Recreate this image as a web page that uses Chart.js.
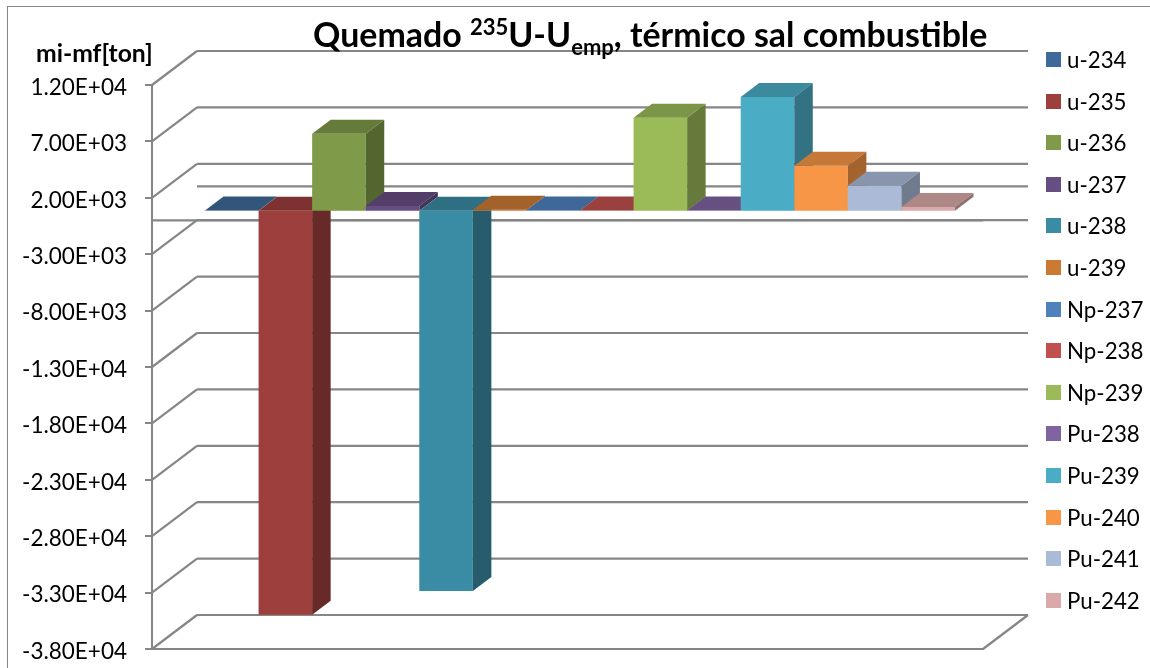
<!DOCTYPE html>
<html lang="es">
<head>
<meta charset="utf-8">
<title>Quemado 235U-Uemp</title>
<script src="https://cdn.jsdelivr.net/npm/chart.js@4"></script>
<style>
    html, body { margin: 0; padding: 0; background: #fff; overflow: hidden; }
    #wrap { position: relative; width: 1150px; height: 668px; font-family: Lato, sans-serif; color: #000; }
    #frame { position: absolute; left: 7px; top: 6px; right: -5px; bottom: -5px; border: 1.5px solid #868686; }
    #chart { position: absolute; left: 0; top: 0; }
    #title { position: absolute; left: 313px; top: 14px; font-size: 33.9px; font-weight: 700; white-space: nowrap; line-height: 40px; }
    #title sup, #title sub { font-size: 22px; line-height: 0; }
    #unit { position: absolute; left: 36px; top: 39px; font-size: 24.7px; font-weight: 700; white-space: nowrap; line-height: 28px; }
    #legend { position: absolute; left: 1046px; top: 39px; }
    #legend div { position: relative; height: 41.6px; line-height: 41.6px; padding-left: 21px; font-size: 22.3px; white-space: nowrap; }
    #legend i { position: absolute; left: 0; top: 13px; width: 15px; height: 15px; }
</style>
</head>
<body>
<div id="wrap">
    <div id="frame"></div>
    <canvas id="chart" width="1150" height="668"></canvas>
    <div id="title">Quemado <sup>235</sup>U-U<sub>emp</sub>, térmico sal combustible</div>
    <div id="unit">mi-mf[ton]</div>
    <div id="legend"></div>
</div>
<script>
    // ── Data ──
    const categories = ['mi-mf'];
    const isotopes = ['u-234', 'u-235', 'u-236', 'u-237', 'u-238', 'u-239', 'Np-237', 'Np-238', 'Np-239', 'Pu-238', 'Pu-239', 'Pu-240', 'Pu-241', 'Pu-242'];
    const massChange = [30, -35800, 6830, 440, -33700, 100, 30, 30, 8250, 30, 10100, 3990, 2220, 350];
    const colors = ['#3E6A9B', '#9C3F3D', '#7F9A48', '#664E83', '#3A8BA4', '#CB7A34', '#4F81BD', '#C0504D', '#9BBB59', '#8064A2', '#4BACC6', '#F79646', '#AABAD7', '#D9AAA9'];
    const axisMin = -38000;
    const axisMax = 12000;
    const axisStep = 5000;

    const lineColor = '#868686';
    // Depth of the box walls, and of the bars inside the box
    const wall = { dx: 45, dy: 34 };
    const barShift = { dx: 12.5, dy: 9.5 };
    const barDepth = { dx: 18.5, dy: 14 };

    function shade(hex, f) {
        const n = parseInt(hex.slice(1), 16);
        const ch = s => Math.round(((n >> s) & 255) * f);
        return `rgb(${ch(16)},${ch(8)},${ch(0)})`;
    }

    function sciLabel(v) {
        const [m, e] = Number(v).toExponential(2).split('e');
        return `${m}E${e[0]}${e.slice(1).padStart(2, '0')}`;
    }

    function poly(ctx, pts, fill) {
        ctx.beginPath();
        pts.forEach((p, i) => i ? ctx.lineTo(p[0], p[1]) : ctx.moveTo(p[0], p[1]));
        ctx.closePath();
        ctx.fillStyle = fill;
        ctx.fill();
    }

    function segment(ctx, x1, y1, x2, y2) {
        ctx.beginPath();
        ctx.moveTo(x1, y1);
        ctx.lineTo(x2, y2);
        ctx.stroke();
    }

    // ── 3D box and bars ──
    const box3d = {
        id: 'box3d',
        beforeDatasetsDraw(chart) {
            const { ctx, chartArea: a } = chart;
            const y = chart.scales.y;

            ctx.save();
            ctx.strokeStyle = lineColor;
            ctx.lineWidth = 2.2;
            y.ticks.forEach(t => {
                const py = y.getPixelForValue(t.value);
                segment(ctx, a.left, py, a.left + wall.dx, py - wall.dy);
                segment(ctx, a.left + wall.dx, py - wall.dy, a.right + wall.dx, py - wall.dy);
            });
            segment(ctx, a.right, a.bottom, a.right + wall.dx, a.bottom - wall.dy);

            // plane of the value 0
            const zero = y.getPixelForValue(0);
            segment(ctx, a.left + wall.dx, zero - wall.dy, a.right + wall.dx, zero - wall.dy);
            segment(ctx, a.left, zero, a.right, zero);
            ctx.restore();

            // left to right, so each bar covers the side of the one before
            ctx.save();
            ctx.translate(barShift.dx, -barShift.dy);
            chart.getSortedVisibleDatasetMetas().forEach((meta, i) => {
                const bar = meta.data[0];
                const l = bar.x - bar.width / 2;
                const r = bar.x + bar.width / 2;
                const top = Math.min(bar.y, bar.base);
                const bot = Math.max(bar.y, bar.base);
                const d = barDepth;
                bar.draw(ctx);
                poly(ctx, [[l, top], [l + d.dx, top - d.dy], [r + d.dx, top - d.dy], [r, top]], shade(colors[i], 0.8));
                poly(ctx, [[r, top], [r + d.dx, top - d.dy], [r + d.dx, bot - d.dy], [r, bot]], shade(colors[i], 0.66));
            });
            ctx.restore();
            return false;
        }
    };

    new Chart(document.getElementById('chart'), {
        type: 'bar',
        data: {
            labels: categories,
            datasets: isotopes.map((name, i) => ({
                label: name,
                data: [massChange[i]],
                backgroundColor: colors[i],
                borderWidth: 0,
                barPercentage: 1,
                categoryPercentage: 0.9025
            }))
        },
        options: {
            responsive: false,
            animation: false,
            layout: { padding: { top: 85, bottom: 19, right: 167 } },
            plugins: {
                tooltip: { enabled: false },
                legend: { display: false }
            },
            scales: {
                x: {
                    grid: { display: true, drawOnChartArea: false, drawTicks: false },
                    border: { display: true, color: lineColor, width: 2 },
                    ticks: { display: false },
                    afterFit(s) { s.height = 0; }
                },
                y: {
                    min: axisMin,
                    max: axisMax,
                    grid: { drawOnChartArea: false, color: lineColor, lineWidth: 2, tickLength: 7 },
                    border: { display: true, color: lineColor, width: 2 },
                    ticks: {
                        stepSize: axisStep,
                        padding: 18,
                        labelOffset: 2.5,
                        color: '#000',
                        font: { family: 'Lato', size: 22.5 },
                        callback: sciLabel
                    },
                    afterFit(s) {
                        s.width = 152;
                        s.paddingTop = 0;
                        s.paddingBottom = 0;
                    }
                }
            }
        },
        plugins: [box3d]
    });

    // Legend rows, the text itself is real text
    const legendEl = document.getElementById('legend');
    isotopes.forEach((name, i) => {
        const row = document.createElement('div');
        const swatch = document.createElement('i');
        swatch.style.background = colors[i];
        row.appendChild(swatch);
        row.appendChild(document.createTextNode(name));
        legendEl.appendChild(row);
    });
</script>
</body>
</html>
